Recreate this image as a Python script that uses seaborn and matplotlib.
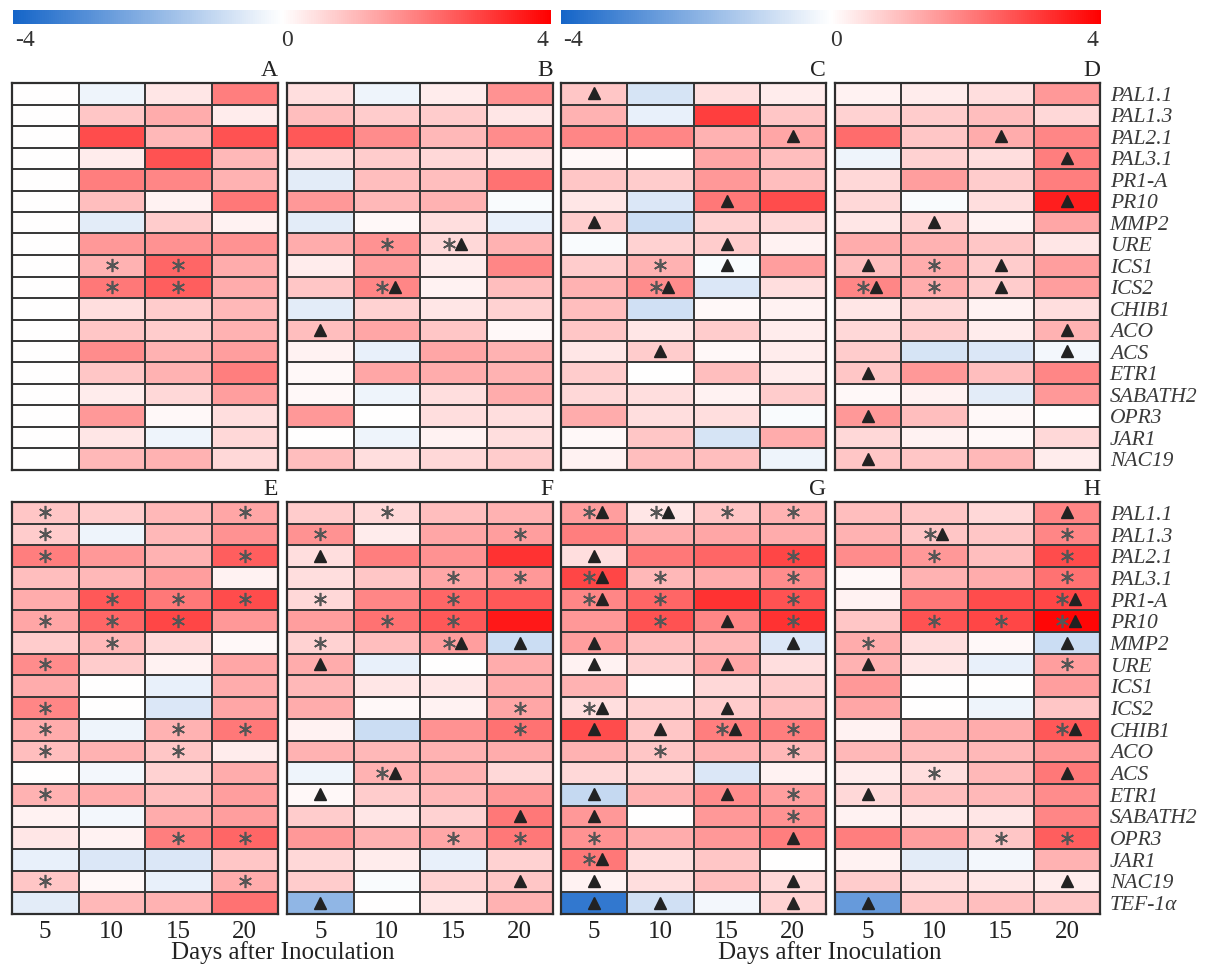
import numpy as np
import pandas as pd
import matplotlib
matplotlib.use("Agg")
import matplotlib as mpl
import matplotlib.pyplot as plt
from matplotlib.colors import LinearSegmentedColormap, Normalize
import seaborn as sns

plt.rcParams['font.family'] = ['Liberation Serif', 'DejaVu Serif']

# ---- labels ----
genes = ['PAL1.1', 'PAL1.3', 'PAL2.1', 'PAL3.1', 'PR1-A', 'PR10', 'MMP2', 'URE',
         'ICS1', 'ICS2', 'CHIB1', 'ACO', 'ACS', 'ETR1', 'SABATH2', 'OPR3',
         'JAR1', 'NAC19']
genes_ref = genes + ['TEF-1α']
days = ['5', '10', '15', '20']

# ---- log2 fold change per panel (rows = genes, cols = days) ----
panel_A = [
    [0, -0.3, 0.4, 2.0], [0, 0.9, 1.3, 0.3], [0, 2.8, 1.1, 2.7], [0, 0.3, 2.7, 1.1],
    [0, 2.0, 1.9, 1.2], [0, 1.0, 0.2, 2.1], [0, -0.5, 0.8, 0.2], [0, 1.6, 1.7, 1.7],
    [0, 1.2, 2.4, 1.3], [0, 2.1, 2.5, 1.3], [0, 0.5, 0.8, 1.1], [0, 0.9, 0.8, 1.2],
    [0, 1.8, 1.2, 1.5], [0, 0.9, 1.2, 2.0], [0, 0.3, 0.6, 1.5], [0, 1.6, 0.1, 0.5],
    [0, 0.4, -0.3, 0.6], [0, 1.1, 1.2, 0.6]]
panel_B = [
    [0.5, -0.3, 0.3, 1.7], [1.0, 0.8, 0.8, 0.4], [2.6, 1.8, 1.1, 1.8], [0.6, 0.8, 0.6, 0.4],
    [-0.5, 1.0, 1.0, 2.2], [1.6, 1.1, 1.2, -0.1], [-0.5, 0.1, 0.5, -0.4], [1.3, 1.7, 0.6, 1.2],
    [0.3, 1.5, 0.3, 1.9], [0.9, 1.9, 0.2, 1.0], [-0.5, 0.7, 0.4, 0.7], [1.0, 1.4, 0.9, 0.1],
    [0.2, -0.4, 1.4, 1.2], [0.1, 1.4, 1.3, 1.2], [0.1, -0.3, 0.5, 1.3], [1.6, 0.0, 0.5, 0.5],
    [0.0, -0.3, 0.2, 0.5], [1.0, 0.5, 0.6, 0.8]]
panel_C = [
    [0.9, -0.7, 0.5, 0.3], [1.2, -0.4, 3.0, 0.9], [1.9, 1.9, 1.2, 1.4], [0.1, 0.0, 1.4, 1.0],
    [0.9, 0.8, 1.6, 1.0], [0.4, -0.6, 2.1, 2.8], [0.8, -0.9, 0.7, 0.6], [-0.1, 0.7, 0.8, 0.2],
    [0.8, 1.2, -0.1, 1.5], [1.2, 1.8, -0.6, 0.5], [1.0, -0.8, 0.1, 0.2], [0.9, 0.4, 0.8, 0.3],
    [0.4, 0.8, 0.1, 0.3], [0.8, 0.0, 1.0, 0.3], [0.6, 0.5, 0.2, 0.8], [1.3, 0.5, 0.5, -0.1],
    [0.1, 0.9, -0.7, 1.3], [0.2, 1.0, 1.0, -0.3]]
panel_D = [
    [0.2, 0.3, 0.5, 1.6], [0.7, 0.8, 1.0, 0.6], [2.3, 0.9, 1.3, 1.9], [-0.3, 0.7, 0.5, 2.0],
    [0.6, 1.5, 0.8, 2.0], [0.6, -0.1, 0.5, 3.5], [0.4, 0.7, 0.2, 1.4], [1.3, 1.2, 0.9, 0.4],
    [1.0, 1.3, 0.8, 1.5], [1.9, 1.3, 0.8, 1.5], [0.4, 0.6, 0.2, 0.5], [0.6, 0.8, 0.3, 1.2],
    [0.8, -0.7, -0.6, -0.2], [0.9, 1.6, 1.0, 1.9], [0.1, 0.2, -0.5, 1.6], [1.6, 1.0, 0.1, 0.0],
    [0.6, 0.2, 0.1, 0.6], [0.9, 0.9, 1.1, 0.3]]
panel_E = [
    [0.9, 0.8, 1.1, 1.4], [0.8, -0.3, 1.1, 1.7], [2.0, 1.6, 1.2, 2.5], [1.0, 1.1, 1.5, 0.2],
    [1.3, 2.6, 2.1, 2.8], [1.4, 2.4, 2.9, 1.6], [0.8, 1.1, 0.6, 0.1], [1.8, 0.8, 0.2, 1.4],
    [1.3, 0.0, -0.4, 1.3], [1.9, 0.0, -0.6, 1.4], [1.3, -0.3, 1.2, 2.1], [1.0, 1.2, 0.9, 0.3],
    [0.0, -0.2, 0.7, 1.3], [1.2, 1.3, 1.0, 1.5], [0.2, -0.2, 1.3, 1.5], [0.4, 0.2, 2.0, 2.4],
    [-0.4, -0.6, -0.6, 0.9], [0.9, 0.1, -0.4, 1.3], [-0.5, 1.1, 1.2, 2.2]]
panel_F = [
    [0.8, 0.6, 1.0, 1.2], [1.7, 0.3, 1.4, 1.5], [0.5, 2.0, 1.7, 3.2], [0.5, 0.9, 1.4, 1.6],
    [0.6, 1.9, 2.4, 2.6], [1.5, 2.2, 2.6, 3.6], [0.7, 1.0, 1.5, -0.9], [1.3, -0.4, 0.0, 1.3],
    [1.1, 0.4, 0.4, 1.3], [1.3, 0.1, 0.2, 1.4], [0.2, -0.9, 1.7, 2.2], [1.2, 1.1, 1.2, 1.3],
    [-0.3, 1.2, 1.2, 0.6], [0.1, 0.8, 1.1, 1.6], [0.8, 0.4, 0.7, 2.1], [1.6, 1.2, 1.4, 2.1],
    [0.6, 0.3, -0.4, 0.7], [0.8, -0.1, 0.7, 0.9], [-1.9, 0.0, 0.4, 1.2]]
panel_G = [
    [1.5, 0.4, 0.9, 1.2], [2.0, 1.3, 1.4, 1.3], [0.5, 2.1, 2.4, 2.9], [2.9, 1.1, 1.3, 1.8],
    [1.9, 2.4, 3.2, 2.7], [1.6, 2.7, 1.9, 3.2], [1.5, 1.0, 1.1, -0.6], [0.2, 0.7, 1.4, 0.5],
    [1.2, 0.0, 0.6, 0.8], [0.5, 0.7, 0.8, 1.0], [2.8, 0.9, 2.0, 2.0], [1.2, 0.9, 1.2, 1.1],
    [0.6, 0.6, -0.6, 0.2], [-1.0, 1.2, 1.8, 1.5], [1.6, 0.0, 1.6, 1.7], [1.7, 1.3, 1.6, 2.0],
    [2.1, 0.5, 0.9, 0.0], [0.2, 0.5, 1.0, 0.6], [-3.5, -0.8, -0.2, 0.7]]
panel_H = [
    [1.0, 0.9, 0.6, 1.9], [1.2, 0.9, 0.9, 1.9], [1.8, 1.6, 1.0, 2.8], [0.1, 1.2, 1.3, 2.2],
    [0.2, 2.1, 2.8, 2.9], [0.9, 2.7, 2.9, 3.9], [1.3, 0.5, 0.1, -0.9], [1.2, 0.4, -0.4, 1.5],
    [1.6, 0.0, 0.0, 1.5], [1.4, 0.0, -0.3, 0.9], [0.2, 1.2, 1.3, 2.6], [1.1, 1.0, 1.1, 1.6],
    [0.3, 0.5, 1.1, 2.1], [0.6, 1.0, 1.1, 1.8], [0.2, 0.3, 0.4, 1.9], [2.0, 1.5, 0.9, 2.5],
    [0.2, -0.5, -0.2, 1.2], [0.8, 0.5, 0.4, 0.3], [-2.6, 0.9, 1.0, 0.9]]

# ---- significance marks: "*" and "^" (triangle), "-" = none ----
marks_A = ['- - - -'] * 8 + ['- * * -', '- * * -'] + ['- - - -'] * 8
marks_B = ['- - - -'] * 7 + ['- * *^ -', '- - - -', '- *^ - -', '- - - -', '^ - - -'] + ['- - - -'] * 6
marks_C = ['^ - - -', '- - - -', '- - - ^', '- - - -', '- - - -', '- - ^ -', '^ - - -',
           '- - ^ -', '- * ^ -', '- *^ - -', '- - - -', '- - - -', '- ^ - -',
           '- - - -', '- - - -', '- - - -', '- - - -', '- - - -']
marks_D = ['- - - -', '- - - -', '- - ^ -', '- - - ^', '- - - -', '- - - ^', '- ^ - -',
           '- - - -', '^ * ^ -', '*^ * ^ -', '- - - -', '- - - ^', '- - - ^',
           '^ - - -', '- - - -', '^ - - -', '- - - -', '^ - - -']
marks_E = ['* - - *', '* - - -', '* - - *', '- - - -', '- * * *', '* * * -', '- * - -',
           '* - - -', '- - - -', '* - - -', '* - * *', '* - * -', '- - - -',
           '* - - -', '- - - -', '- - * *', '- - - -', '* - - *', '- - - -']
marks_F = ['- * - -', '* - - *', '^ - - -', '- - * *', '* - * -', '- * * -', '* - *^ ^',
           '^ - - -', '- - - -', '- - - *', '- - - *', '- - - -', '- *^ - -',
           '^ - - -', '- - - ^', '- - * *', '- - - -', '- - - ^', '^ - - -']
marks_G = ['*^ *^ * *', '- - - -', '^ - - *', '*^ * - *', '*^ * - *', '- * ^ *', '^ - - ^',
           '^ - ^ -', '- - - -', '*^ - ^ -', '^ ^ *^ *', '- * - *', '- - - -',
           '^ - ^ *', '^ - - *', '* - - ^', '*^ - - -', '^ - - ^', '^ ^ - ^']
marks_H = ['- - - ^', '- *^ - *', '- * - *', '- - - *', '- - - *^', '- * * *^', '* - - ^',
           '^ - - *', '- - - -', '- - - -', '- - - *^', '- - - -', '- * - ^',
           '^ - - -', '- - - -', '- - * *', '- - - -', '- - - ^', '^ - - -']

cmap = LinearSegmentedColormap.from_list('expr', ['#1565c8', '#ffffff', '#ff0000'])
norm = Normalize(vmin=-4, vmax=4)

W, H = 1214, 965
fig = plt.figure(figsize=(W / 100, H / 100), dpi=100)


def add_axes_px(x0, y0, x1, y1):
    return fig.add_axes([x0 / W, 1 - y1 / H, (x1 - x0) / W, (y1 - y0) / H])


def draw_panel(ax, values, marks, rows, letter, show_x, show_y):
    df = pd.DataFrame(values, index=rows, columns=days)
    sns.heatmap(df, ax=ax, cmap=cmap, vmin=-4, vmax=4, cbar=False,
                linewidths=1.1, linecolor='#3a3a3a')
    for s in ax.spines.values():
        s.set_visible(True)
        s.set_linewidth(1.6)
        s.set_edgecolor('#2e2e2e')
    ax.tick_params(length=0)
    if show_x:
        ax.set_xticklabels(days, fontsize=18, rotation=0, color='#222222')
        ax.tick_params(axis='x', pad=5)
    else:
        ax.set_xticks([])
    if show_y:
        ax.yaxis.tick_right()
        ax.set_yticks(np.arange(len(rows)) + 0.5)
        ax.set_yticklabels(rows, fontsize=15.5, style='italic', rotation=0,
                           color='#3a3a3a')
        ax.tick_params(axis='y', pad=7)
    else:
        ax.set_yticks([])
    ax.set_xlabel('')
    ax.set_ylabel('')
    ax.text(1.0, 1.005, letter, transform=ax.transAxes, ha='right', va='bottom',
            fontsize=17, color='#222222')
    # significance marks
    for i, line in enumerate(marks):
        for j, tok in enumerate(line.split()):
            if tok == '-':
                continue
            cy = i + 0.5
            if tok == '*^':
                xs, xt = j + 0.43, j + 0.62
            else:
                xs = xt = j + 0.5
            if '*' in tok:
                ax.plot(xs, cy - 0.02, marker=(6, 2, 0), markersize=9.5, mew=1.2,
                        color='#555555', linestyle='none')
            if '^' in tok:
                ax.plot(xt, cy - 0.02, marker='^', markersize=9, color='#222222',
                        linestyle='none')


lefts = [12, 287, 561, 835]
rights = [278, 553, 826, 1100]
top_data = [(panel_A, marks_A, 'A'), (panel_B, marks_B, 'B'),
            (panel_C, marks_C, 'C'), (panel_D, marks_D, 'D')]
bot_data = [(panel_E, marks_E, 'E'), (panel_F, marks_F, 'F'),
            (panel_G, marks_G, 'G'), (panel_H, marks_H, 'H')]

for k, (vals, mk, let) in enumerate(top_data):
    ax = add_axes_px(lefts[k], 83, rights[k], 470)
    draw_panel(ax, vals, mk, genes, let, show_x=False, show_y=(k == 3))

for k, (vals, mk, let) in enumerate(bot_data):
    ax = add_axes_px(lefts[k], 502, rights[k], 914)
    draw_panel(ax, vals, mk, genes_ref, let, show_x=True, show_y=(k == 3))

# axis titles under each pair of panels
fig.text(283 / W, 1 - 953 / H, 'Days after Inoculation', ha='center', va='center',
         fontsize=18, color='#222222')
fig.text(830 / W, 1 - 953 / H, 'Days after Inoculation', ha='center', va='center',
         fontsize=18, color='#222222')

# colour scales
for x0, x1 in [(13, 551), (561, 1101)]:
    cax = add_axes_px(x0, 10, x1, 24)
    cb = mpl.colorbar.ColorbarBase(cax, cmap=cmap, norm=norm, orientation='horizontal')
    cb.outline.set_visible(False)
    cax.set_xticks([])
    cax.set_yticks([])
    fig.text((x0 + 2) / W, 1 - 41 / H, '-4', ha='left', va='center', fontsize=17,
             color='#333333')
    fig.text((x0 + (x1 - x0) / 2 + 5) / W, 1 - 41 / H, '0', ha='center', va='center',
             fontsize=17, color='#333333')
    fig.text((x1 - 3) / W, 1 - 41 / H, '4', ha='right', va='center', fontsize=17,
             color='#333333')

fig.savefig('out.png', dpi=100, facecolor='white')
